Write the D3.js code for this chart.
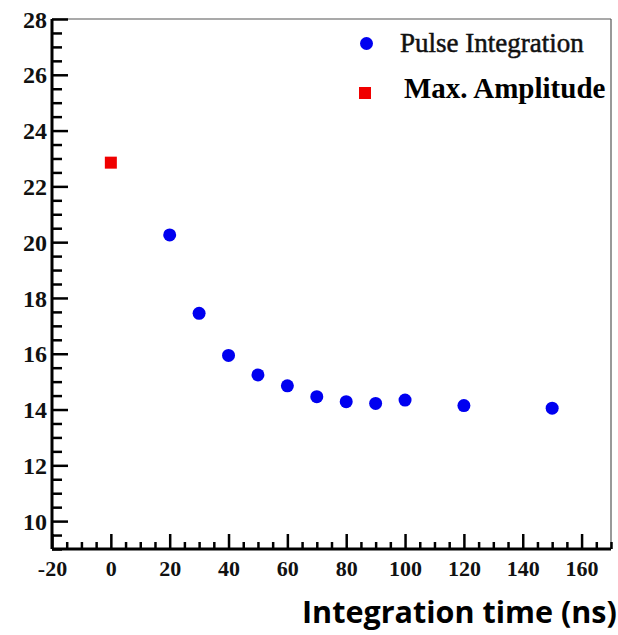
<!DOCTYPE html>
<html>
<head>
<meta charset="utf-8">
<script src="https://cdn.jsdelivr.net/npm/d3@7"></script>
<style>
  html, body { margin: 0; padding: 0; background: #fff; }
  svg { display: block; }
  .tick text { font-family: "Liberation Serif", "Times New Roman", serif; font-weight: bold; fill: #111; }
</style>
</head>
<body>
<svg id="chart" width="618" height="635"></svg>
<script>
// data
const pulseTimes = [20, 30, 40, 50, 60, 70, 80, 90, 100, 120, 150];
const pulseValues = [20.26, 17.45, 15.94, 15.24, 14.85, 14.46, 14.28, 14.22, 14.34, 14.14, 14.05];
const maxAmpTimes = [0];
const maxAmpValues = [22.85];
const xMajorTicks = [-20, 0, 20, 40, 60, 80, 100, 120, 140, 160];
const yMajorTicks = [10, 12, 14, 16, 18, 20, 22, 24, 26, 28];
const legendLabels = ['Pulse Integration', 'Max. Amplitude'];
const xTitle = 'Integration time (ns)';

const svg = d3.select('#chart');
const plotL = 52, plotR = 611, plotT = 19, plotB = 549;

const x = d3.scaleLinear().domain([-20, 170]).range([plotL, plotR]);
const y = d3.scaleLinear().domain([9, 28]).range([plotB, plotT]);

// thin frame on top and right
svg.append('line')
  .attr('x1', plotL).attr('x2', plotR).attr('y1', plotT).attr('y2', plotT)
  .attr('stroke', '#555').attr('stroke-width', 1.2);
svg.append('line')
  .attr('x1', plotR).attr('x2', plotR).attr('y1', plotT).attr('y2', plotB)
  .attr('stroke', '#555').attr('stroke-width', 1.2);

// minor ticks
svg.append('g')
  .attr('transform', `translate(0,${plotB})`)
  .call(d3.axisBottom(x).tickValues(d3.range(-15, 171, 5).filter(v => v % 20 !== 0)).tickSize(-7).tickFormat(''))
  .call(g => g.select('.domain').remove())
  .call(g => g.selectAll('line').attr('stroke', '#000').attr('stroke-width', 2.5));
svg.append('g')
  .attr('transform', `translate(${plotL},0)`)
  .call(d3.axisLeft(y).tickValues(d3.range(9, 28, 0.5).filter(v => v % 2 !== 0)).tickSize(-10).tickFormat(''))
  .call(g => g.select('.domain').remove())
  .call(g => g.selectAll('line').attr('stroke', '#000').attr('stroke-width', 2.5));

// major ticks and labels (plain hyphen for the minus, as in the figure)
const xAxis = svg.append('g')
  .attr('transform', `translate(0,${plotB})`)
  .call(d3.axisBottom(x).tickValues(xMajorTicks).tickSize(-15).tickFormat(d => String(d)));
xAxis.selectAll('.tick text').attr('font-size', 22).attr('dy', '0.71em').attr('y', 11);

const yAxis = svg.append('g')
  .attr('transform', `translate(${plotL},0)`)
  .call(d3.axisLeft(y).tickValues(yMajorTicks).tickSize(-16).tickFormat(d => String(d)));
yAxis.selectAll('.tick text').attr('font-size', 24).attr('x', -5).attr('dy', '0.34em');

[xAxis, yAxis].forEach(a => {
  a.selectAll('.tick line').attr('stroke', '#000').attr('stroke-width', 2.5);
  a.select('.domain').attr('stroke', '#000').attr('stroke-width', 3);
});
xAxis.select('.domain').attr('d', `M${plotL},0H${plotR}`);
yAxis.select('.domain').attr('d', `M0,${plotB}V${plotT}`);

// points
svg.append('g').selectAll('circle')
  .data(pulseTimes.map((t, i) => [t, pulseValues[i]]))
  .join('circle')
  .attr('cx', d => x(d[0]))
  .attr('cy', d => y(d[1]))
  .attr('r', 6.5)
  .attr('fill', '#0000f0');

svg.append('g').selectAll('rect')
  .data(maxAmpTimes.map((t, i) => [t, maxAmpValues[i]]))
  .join('rect')
  .attr('x', d => x(d[0]) - 6)
  .attr('y', d => y(d[1]) - 6)
  .attr('width', 12).attr('height', 12)
  .attr('fill', '#f00000');

// legend
const legend = svg.append('g');
legend.append('circle').attr('cx', 366.5).attr('cy', 43.5).attr('r', 6.5).attr('fill', '#0000f0');
legend.append('text')
  .attr('x', 400).attr('y', 51.5)
  .attr('font-family', '"Liberation Serif", serif')
  .attr('font-size', 27)
  .attr('fill', '#111')
  .attr('stroke', '#111')
  .attr('stroke-width', 0.5)
  .text(legendLabels[0]);
legend.append('rect').attr('x', 359).attr('y', 87).attr('width', 12).attr('height', 12).attr('fill', '#f00000');
legend.append('text')
  .attr('x', 404).attr('y', 98)
  .attr('font-family', '"Liberation Serif", serif')
  .attr('font-weight', 'bold')
  .attr('font-size', 29)
  .attr('fill', '#000')
  .text(legendLabels[1]);

// axis title, sized to span the same width as in the figure
const title = svg.append('text')
  .attr('x', 302).attr('y', 623)
  .attr('font-family', '"Open Sans", sans-serif')
  .attr('font-weight', 'bold')
  .attr('font-size', 24)
  .attr('fill', '#000')
  .text(xTitle);
const w = title.node().getComputedTextLength();
title.attr('font-size', 24 * 315 / w);
</script>
</body>
</html>
